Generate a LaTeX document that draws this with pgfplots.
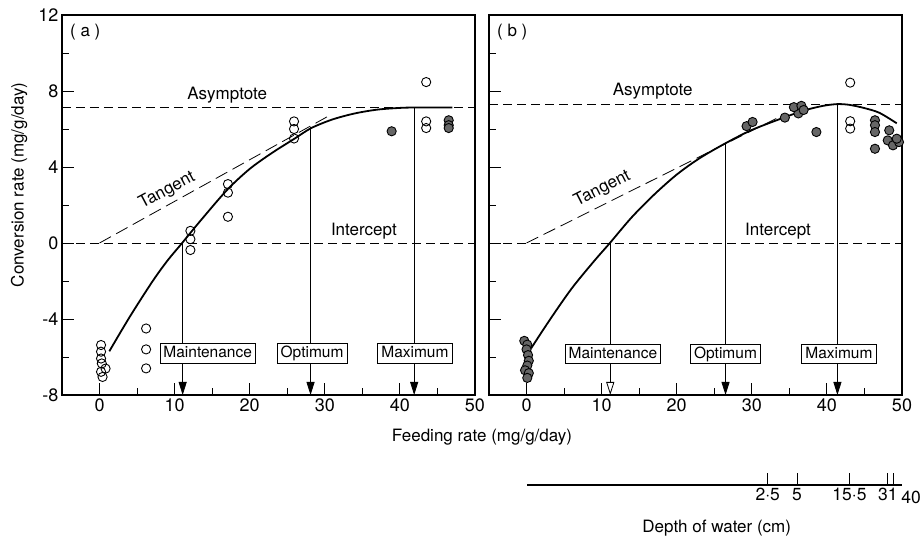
\documentclass[border=0pt]{standalone}
\usepackage{fontspec}
\setmainfont{TeX Gyre Heros}
\usepackage{pgfplots}
\pgfplotsset{compat=1.18}
\usetikzlibrary{arrows.meta}

\pgfplotsset{
  panel/.style={
    scale only axis, width=413pt, height=380pt,
    xmin=-5, xmax=50, ymin=-8, ymax=12,
    xtick={0,10,20,30,40,50}, minor xtick={5,15,25,35,45},
    ytick={-8,-4,0,4,8,12}, minor ytick={-6,-2,2,6,10},
    tick align=inside, tick pos=left,
    major tick length=12pt, minor tick length=7pt,
    every tick/.style={black, line width=0.9pt},
    axis line style={line width=1.3pt},
    /pgf/number format/assume math mode=true,
    ticklabel style={font=\fontsize{18}{20}\selectfont},
    clip=false,
  },
  opc/.style={only marks, mark=o, mark size=4.6pt, mark options={black, line width=0.9pt}},
  flc/.style={only marks, mark=*, mark size=4.6pt, mark options={draw=black, fill=black!60, line width=0.9pt}},
  dsh/.style={black, line width=0.9pt, dash pattern=on 9pt off 5pt},
  vl/.style={black, line width=0.8pt, -{Triangle[width=8pt,length=13pt]}},
  vlo/.style={black, line width=0.8pt, -{Triangle[open,width=8pt,length=13pt]}},
}
\tikzset{
  bx/.style={draw, fill=white, line width=0.8pt, inner xsep=3.5pt, inner ysep=2.5pt,
     text height=11.5pt, text depth=3pt, font=\fontsize{15.5}{17}\selectfont},
  ann/.style={font=\fontsize{17}{19}\selectfont},
}

\begin{document}
\begin{tikzpicture}
\path[use as bounding box] (-62pt,-148pt) rectangle (862pt,395pt);

% ---------------- panel (a) ----------------
\begin{axis}[panel, at={(0pt,0pt)}, anchor=south west,
  xticklabels={0,10,20,30,40,50},
  yticklabels={-8,-4,0,4,8,12},
  ylabel={Conversion rate (mg/g/day)},
  ylabel style={font=\fontsize{17}{19}\selectfont, at={(axis description cs:-0.104,0.553)}, anchor=center},
]
\addplot[dsh] coordinates {(-5,7.13) (50,7.13)};
\addplot[dsh] coordinates {(-5,0) (50,0)};
\addplot[black, line width=0.8pt, dash pattern=on 13pt off 6pt] coordinates {(0,0) (30.8,6.75)};
\addplot[vl] coordinates {(11.07,0) (11.07,-8)};
\addplot[vl] coordinates {(28.1,6.1) (28.1,-8)};
\addplot[vl] coordinates {(41.9,7.13) (41.9,-8)};
\addplot[black, line width=1.8pt, smooth] coordinates {
 (1.3,-5.7) (4,-3.9) (7,-2.05) (9,-0.95) (11,0) (13.5,1.2) (17,2.8) (20,3.9)
 (23,4.75) (26,5.5) (28.2,6.05) (31,6.5) (34,6.82) (37,7.02) (40,7.11) (42,7.13) (47,7.13)};
\addplot[opc] coordinates {
 (0.2,-5.37) (0.2,-5.72) (0.2,-6.08) (0.3,-6.34) (0.8,-6.61) (0.2,-6.78) (0.4,-7.05)
 (6.2,-4.5) (6.2,-5.6) (6.2,-6.6)
 (12.1,0.64) (12.1,0.2) (12.1,-0.37)
 (17.1,3.1) (17.1,2.65) (17.1,1.38)
 (25.9,6.4) (25.9,6.0) (25.9,5.5)
 (43.5,8.47) (43.5,6.4) (43.5,6.05)};
\addplot[flc] coordinates {(38.9,5.88) (46.5,6.46) (46.5,6.2) (46.5,6.05)};
\node[ann] at (axis cs:17,7.8) {Asymptote};
\node[ann, rotate=28] at (axis cs:9.0,2.75) {Tangent};
\node[ann] at (axis cs:35.2,0.64) {Intercept};
\node[font=\fontsize{17}{19}\selectfont] at (axis cs:-1.9,11.1) {( a )};
\node[bx] at (axis cs:14.4,-5.8) {Maintenance};
\node[bx] at (axis cs:28.3,-5.8) {Optimum};
\node[bx] at (axis cs:42,-5.8) {Maximum};
\end{axis}

% ---------------- panel (b) ----------------
\begin{axis}[panel, at={(427pt,0pt)}, anchor=south west,
  xticklabels={0,10,20,30,40,50},
  yticklabels={},
]
\addplot[dsh] coordinates {(-5,7.31) (50,7.31)};
\addplot[dsh] coordinates {(-5,0) (50,0)};
\addplot[black, line width=0.8pt, dash pattern=on 13pt off 6pt] coordinates {(0,0) (34,6.7)};
\addplot[vlo] coordinates {(11.15,0) (11.15,-8)};
\addplot[vl] coordinates {(26.5,5.23) (26.5,-8)};
\addplot[vl] coordinates {(41.4,7.31) (41.4,-8)};
\addplot[black, line width=1.8pt, smooth] coordinates {
 (0.6,-5.55) (3,-4.1) (6,-2.4) (9,-0.95) (11.1,0) (14,1.35) (17,2.55) (20,3.6)
 (23,4.45) (26.5,5.25) (30,5.95) (34.4,6.62) (37,6.98) (39.5,7.22) (41.4,7.31)
 (43,7.27) (45,7.1) (47,6.85) (49.3,6.3)};
\addplot[flc] coordinates {
 (-0.3,-5.15) (0.1,-5.35) (0,-5.6) (0.2,-5.9) (0.3,-6.2) (0.1,-6.45) (-0.2,-6.7) (0.3,-6.85) (0.1,-7.1)
 (29.3,6.15) (30.1,6.37) (34.4,6.6) (36.2,6.82) (35.6,7.15) (36.6,7.22) (36.9,7.0)
 (38.6,5.84)
 (46.4,6.46) (46.4,6.2) (46.4,5.84) (46.4,4.96)
 (48.3,5.93) (48.1,5.4) (48.8,5.14) (49.6,5.31) (49.3,5.49)};
\addplot[opc] coordinates {(43.1,8.44) (43.1,6.41) (43.1,6.02)};
\node[ann] at (axis cs:16.8,8.0) {Asymptote};
\node[ann, rotate=27] at (axis cs:10.1,2.85) {Tangent};
\node[ann] at (axis cs:33.5,0.64) {Intercept};
\node[font=\fontsize{17}{19}\selectfont] at (axis cs:-1.9,11.1) {( b )};
\node[bx] at (axis cs:11.5,-5.85) {Maintenance};
\node[bx] at (axis cs:26.5,-5.85) {Optimum};
\node[bx] at (axis cs:41.6,-5.85) {Maximum};
\end{axis}

% ---------------- depth of water scale ----------------
\begin{axis}[at={(465pt,-90pt)}, anchor=south west,
  scale only axis, width=375pt, height=10pt,
  xmin=0, xmax=50, ymin=0, ymax=1,
  axis x line=bottom, hide y axis,
  x axis line style={-, line width=1.2pt},
  xtick={32.1,36,43,48.1,48.8},
  xticklabels={2·5,5,15·5,31,{}},
  tick align=inside, major tick length=12pt,
  every tick/.style={black, line width=0.9pt},
  /pgf/number format/assume math mode=true,
  ticklabel style={font=\fontsize{17.5}{19}\selectfont},
  clip=false,
]
\node[font=\fontsize{17.5}{19}\selectfont, anchor=north] at (axis cs:51.2,0) [yshift=-3pt] {40};
\node[font=\fontsize{17}{19}\selectfont] at (axis cs:25.3,0) [yshift=-43pt] {Depth of water (cm)};
\end{axis}

\node[font=\fontsize{17}{19}\selectfont] at (420pt,-42pt) {Feeding rate (mg/g/day)};
\end{tikzpicture}
\end{document}
